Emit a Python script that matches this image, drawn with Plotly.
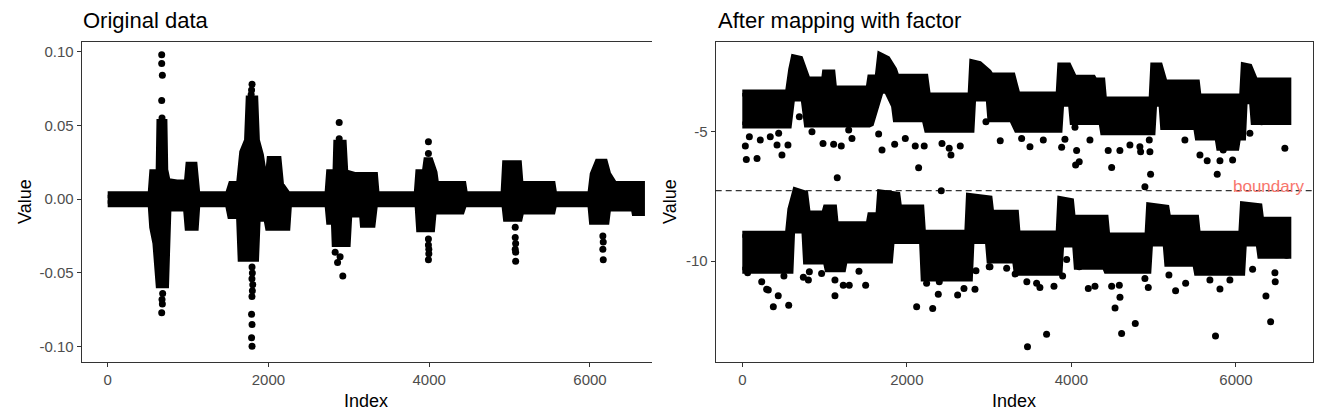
import plotly.graph_objects as go

# ---- left panel: original data (index vs value) ----
# dense core of the point cloud: upper / lower outline
orig_up_x = [0, 540, 560, 640, 650, 700, 710, 740, 860, 990, 1010, 1075, 1110, 1500, 1540, 1640, 1680, 1740, 1760, 1830,
             1850, 1900, 1940, 2000, 2020, 2120, 2150, 2240, 2740, 2760, 2840, 2850, 2930, 2950, 3080, 3320, 3340, 3850,
             3870, 3950, 3970, 4010, 4060, 4080, 4420, 4440, 4930, 4950, 5110, 5130, 5530, 5550, 6010, 6040, 6100, 6180,
             6220, 6300, 6640]
orig_up_y = [0.003, 0.003, 0.018, 0.018, 0.052, 0.052, 0.020, 0.012, 0.011, 0.011, 0.023, 0.023, 0.003, 0.003, 0.010,
             0.010, 0.032, 0.040, 0.068, 0.068, 0.040, 0.030, 0.016, 0.016, 0.027, 0.027, 0.010, 0.003, 0.003, 0.018,
             0.018, 0.038, 0.038, 0.018, 0.016, 0.016, 0.003, 0.003, 0.018, 0.018, 0.026, 0.026, 0.018, 0.010, 0.010,
             0.003, 0.003, 0.024, 0.024, 0.010, 0.010, 0.003, 0.003, 0.017, 0.025, 0.025, 0.017, 0.010, 0.010]
orig_lo_x = [0, 540, 560, 600, 640, 720, 750, 980, 1000, 1090, 1110, 1500, 1530, 1640, 1660, 1840, 1860, 1980, 2000, 2230,
             2250, 2740, 2760, 2820, 2830, 2980, 3000, 3170, 3180, 3290, 3320, 3860, 3880, 4030, 4050, 4400, 4430, 4940,
             4960, 5120, 5140, 5530, 5550, 6010, 6030, 6200, 6220, 6550, 6560, 6640]
orig_lo_y = [-0.003, -0.003, -0.019, -0.030, -0.058, -0.058, -0.006, -0.006, -0.019, -0.019, -0.003, -0.003, -0.011,
             -0.011, -0.040, -0.040, -0.013, -0.013, -0.019, -0.019, -0.003, -0.003, -0.015, -0.015, -0.030, -0.030,
             -0.010, -0.010, -0.017, -0.017, -0.003, -0.003, -0.020, -0.020, -0.008, -0.008, -0.003, -0.003, -0.013,
             -0.013, -0.008, -0.008, -0.003, -0.003, -0.015, -0.015, -0.006, -0.006, -0.009, -0.009]
# single points sticking out of the core
orig_pts_x = [672, 672, 680, 672, 676, 1796, 1790, 1785, 2880, 2880, 3990, 3990,
              676, 680, 672, 684, 1796, 1800, 1795, 1805, 1800, 1795, 1790, 1796, 1790, 1796,
              2830, 2891, 2860, 2925, 3990, 3990, 3995, 3995, 3990,
              5070, 5070, 5075, 5070, 5075, 5075, 6160, 6165, 6160, 6165]
orig_pts_y = [0.098, 0.092, 0.084, 0.067, 0.055, 0.078, 0.074, 0.071, 0.052, 0.041, 0.039, 0.031,
              -0.068, -0.071, -0.077, -0.064, -0.046, -0.050, -0.054, -0.058, -0.062, -0.066, -0.078, -0.085, -0.094,
              -0.0997, -0.036, -0.039, -0.043, -0.052, -0.027, -0.031, -0.034, -0.037, -0.041,
              -0.019, -0.026, -0.030, -0.034, -0.036, -0.042, -0.025, -0.029, -0.034, -0.041]
orig_ticks = [-0.1, -0.05, 0, 0.05, 0.1]
orig_ticktext = ["-0.10", "-0.05", "0.00", "0.05", "0.10"]

# ---- right panel: after mapping with factor ----
hi_up_x = [0, 560, 600, 630, 700, 750, 790, 1000, 1010, 1090, 1110, 1540, 1560, 1650, 1680, 1760, 1840, 1870, 2220,
           2250, 2780, 2800, 2880, 2990, 3020, 3280, 3340, 3850, 3870, 3960, 4000, 4030, 4260, 4280, 4370, 4390, 4980,
           5000, 5070, 5100, 5130, 5520, 5540, 6080, 6100, 6160, 6200, 6230, 6630]
hi_up_y = [-3.50, -3.50, -2.60, -2.15, -2.20, -2.60, -3.00, -3.00, -2.73, -2.73, -3.35, -3.35, -2.92, -2.92, -2.07,
           -2.20, -2.60, -2.89, -2.89, -3.62, -3.62, -2.34, -2.40, -2.70, -2.85, -2.85, -3.58, -3.58, -2.46, -2.46,
           -2.70, -2.93, -2.93, -3.04, -3.04, -3.77, -3.77, -2.46, -2.46, -2.80, -3.12, -3.12, -3.66, -3.66, -2.46,
           -2.50, -2.80, -3.04, -3.04]
hi_lo_x = [0, 560, 600, 750, 790, 1540, 1560, 1680, 1760, 1850, 1870, 2220, 2250, 2780, 2800, 3000, 3020, 3280, 3340,
           3850, 3870, 4000, 4020, 4370, 4390, 4980, 5000, 5100, 5120, 5520, 5540, 5780, 5800, 6000, 6020, 6080, 6100,
           6200, 6220, 6630]
hi_lo_y = [-4.74, -4.74, -3.70, -3.70, -4.70, -4.70, -4.67, -3.40, -3.40, -4.00, -4.50, -4.50, -4.90, -4.90, -3.70,
           -3.70, -4.50, -4.50, -4.90, -4.90, -3.90, -3.90, -4.60, -4.60, -5.00, -5.00, -3.90, -3.90, -4.80, -4.80,
           -5.20, -5.20, -5.60, -5.60, -5.20, -5.20, -3.80, -3.80, -4.60, -4.60]
lo_up_x = [0, 560, 590, 650, 760, 790, 1000, 1020, 1110, 1130, 1540, 1560, 1660, 1680, 1880, 1900, 2170, 2190, 2740,
           2760, 3000, 3020, 3320, 3340, 3850, 3870, 3990, 4010, 4410, 4430, 4930, 4950, 5150, 5170, 5510, 5530, 6070,
           6090, 6280, 6300, 6630]
lo_up_y = [-8.96, -8.96, -8.00, -7.29, -7.40, -8.18, -8.18, -7.95, -7.95, -8.60, -8.60, -8.25, -8.25, -7.37, -7.45,
           -7.95, -7.95, -8.92, -8.92, -7.50, -7.60, -8.15, -8.15, -8.95, -8.95, -7.63, -7.70, -8.34, -8.34, -9.03,
           -9.03, -7.87, -7.95, -8.34, -8.34, -8.96, -8.96, -7.83, -7.90, -8.42, -8.42]
lo_lo_x = [0, 580, 600, 760, 780, 1020, 1040, 1220, 1240, 1790, 1810, 2190, 2210, 2760, 2780, 2990, 3010, 3320, 3340,
           3850, 3870, 4050, 4070, 4410, 4430, 4930, 4950, 5150, 5170, 5510, 5530, 6070, 6090, 6280, 6300, 6630]
lo_lo_y = [-10.35, -10.35, -8.80, -8.80, -10.00, -10.00, -10.30, -10.30, -9.96, -9.96, -9.20, -9.20, -10.65, -10.65,
           -9.20, -9.20, -9.96, -9.96, -10.43, -10.43, -9.34, -9.34, -10.20, -10.20, -10.35, -10.35, -9.30, -9.30,
           -10.08, -10.08, -10.43, -10.43, -9.30, -9.30, -9.77, -9.77]
mapped_pts_x = [37, 49, 179, 86, 219, 340, 442, 422, 482, 555, 693, 847, 981, 1110, 1154, 1203, 1293, 1333, 1657, 1698,
                1852, 1981, 2102, 2143, 2211, 2427, 2515, 2536, 2649, 3135, 2961, 2418,
                3496, 3395, 3658, 3881, 3921, 4063, 4043, 4051, 4095, 4225, 4447, 4489, 4589, 4711, 4832, 4841, 4954,
                4962, 4893, 4946, 5379, 5562, 5650, 5772, 5805, 5959, 6169, 6311, 6594, 5845,
                65, 236, 296, 316, 377, 437, 506, 564, 742, 803, 815, 815, 964, 1126, 1126, 1227, 1300, 1418, 1499,
                2119, 2314, 2240, 2394, 2382, 2617, 2694, 2828, 2840, 3001,
                3010, 3213, 3316, 3458, 3466, 3577, 3617, 3698, 3788, 3893, 3942, 4095, 4205, 4286, 4489, 4530, 4590,
                4610, 4582, 4776, 4893, 4934, 5185, 5266, 5388, 5751, 5805, 5926, 5683, 6202, 6364, 6421, 6473, 6477,
                6485, 6615]
mapped_pts_y = [-5.55, -6.07, -6.03, -5.19, -5.32, -5.19, -5.06, -5.51, -5.90, -5.51, -4.42, -5.00, -5.45, -5.48,
                -6.78, -5.55, -4.93, -5.26, -5.09, -5.71, -5.48, -5.26, -5.55, -6.39, -5.55, -5.45, -5.64, -5.90,
                -5.55, -5.35, -4.61, -7.28,
                -5.58, -5.26, -5.32, -5.60, -5.29, -5.73, -4.83, -6.29, -6.16, -5.32, -5.73, -6.38, -5.73, -5.51,
                -5.58, -5.77, -5.77, -6.64, -7.13, -5.32, -5.32, -5.90, -6.12, -6.64, -6.12, -6.09, -5.06, -4.61,
                -5.64, -5.71,
                -10.45, -10.80, -11.09, -11.12, -11.77, -11.34, -10.58, -11.71, -10.63, -10.73, -10.41, -9.45,
                -10.48, -10.73, -11.34, -10.93, -10.93, -10.39, -10.93, -11.77, -11.83, -10.86, -10.80, -11.28,
                -11.31, -11.06, -11.09, -10.37, -10.22,
                -10.22, -10.28, -10.50, -10.80, -13.31, -10.86, -11.02, -12.83, -10.97, -10.58, -9.94, -10.22,
                -11.06, -10.97, -10.97, -11.81, -11.40, -12.80, -10.93, -12.41, -10.67, -11.02, -10.54, -11.15,
                -10.86, -12.90, -11.08, -10.73, -10.73, -10.32, -11.35, -12.35, -10.45, -10.80, -9.45, -9.77]
mapped_ticks = [-10, -5]
mapped_ticktext = ["-10", "-5"]
index_ticks = [0, 2000, 4000, 6000]
boundary = -7.28
boundary_label_x = 6390

FONT = "Liberation Sans, Arial, sans-serif"
PT = 7  # point diameter


def core(xu, yu, xl, yl, xa, ya):
    # filled outline of the dense part of the cloud
    return go.Scatter(x=xu + xl[::-1], y=yu + yl[::-1], fill="toself", fillcolor="black", mode="lines",
                      line=dict(color="black", width=PT), xaxis=xa, yaxis=ya, hoverinfo="skip", showlegend=False)


fig = go.Figure()
fig.add_trace(core(orig_up_x, orig_up_y, orig_lo_x, orig_lo_y, "x", "y"))
fig.add_trace(go.Scatter(x=orig_pts_x, y=orig_pts_y, mode="markers", marker=dict(color="black", size=PT),
                         xaxis="x", yaxis="y", showlegend=False))
fig.add_trace(core(hi_up_x, hi_up_y, hi_lo_x, hi_lo_y, "x2", "y2"))
fig.add_trace(core(lo_up_x, lo_up_y, lo_lo_x, lo_lo_y, "x2", "y2"))
fig.add_trace(go.Scatter(x=mapped_pts_x, y=mapped_pts_y, mode="markers", marker=dict(color="black", size=PT),
                         xaxis="x2", yaxis="y2", showlegend=False))

ax = dict(showgrid=False, zeroline=False, showline=True, linecolor="#333333", linewidth=1, ticks="outside",
          ticklen=4, tickcolor="#333333", automargin=False,
          tickfont=dict(family=FONT, size=15, color="#4D4D4D"))
ydom = [0.1347, 0.9002]
fig.update_layout(
    width=1321, height=418, margin=dict(l=0, r=0, t=0, b=0),
    paper_bgcolor="white", plot_bgcolor="white", font=dict(family=FONT),
    xaxis=dict(ax, domain=[0.0618, 0.4936], range=[-324, 6772], tickvals=index_ticks, mirror=True, anchor="y"),
    yaxis=dict(ax, domain=ydom, range=[-0.1102, 0.1068], tickvals=orig_ticks, ticktext=orig_ticktext, anchor="x"),
    xaxis2=dict(ax, domain=[0.5418, 0.9937], range=[-323, 6932], tickvals=index_ticks, mirror=True, anchor="y2"),
    yaxis2=dict(ax, domain=ydom, range=[-13.89, -1.52], tickvals=mapped_ticks, ticktext=mapped_ticktext,
                mirror=True, anchor="x2"),
)

fig.add_shape(type="line", xref="x2 domain", yref="y2", x0=0, x1=1, y0=boundary, y1=boundary,
              line=dict(color="black", width=1, dash="6px,4px"))
fig.add_annotation(x=boundary_label_x, y=boundary, xref="x2", yref="y2", text="boundary", showarrow=False,
                   yshift=4, font=dict(family=FONT, size=17, color="#F8766D"))

for txt, x in [("Original data", 81 / 1321), ("After mapping with factor", 716 / 1321)]:
    fig.add_annotation(x=x, y=(418 - 21) / 418, xref="paper", yref="paper", text=txt, showarrow=False,
                       xanchor="left", yanchor="middle", font=dict(family=FONT, size=22, color="black"))
for x in [366 / 1321, 1014 / 1321]:
    fig.add_annotation(x=x, y=(418 - 401) / 418, xref="paper", yref="paper", text="Index", showarrow=False,
                       xanchor="center", yanchor="middle", font=dict(family=FONT, size=18, color="black"))
for x in [25 / 1321, 670 / 1321]:
    fig.add_annotation(x=x, y=(418 - 202) / 418, xref="paper", yref="paper", text="Value", showarrow=False,
                       textangle=-90, xanchor="center", yanchor="middle",
                       font=dict(family=FONT, size=18, color="black"))

# page margins would shift and squeeze the figure; drop them
fig.write_html("out.html", config={"displayModeBar": False},
               post_script="document.body.style.margin='0px';"
                           "Plotly.relayout(document.getElementById('{plot_id}'),"
                           "{width: 1321, height: 418});")
